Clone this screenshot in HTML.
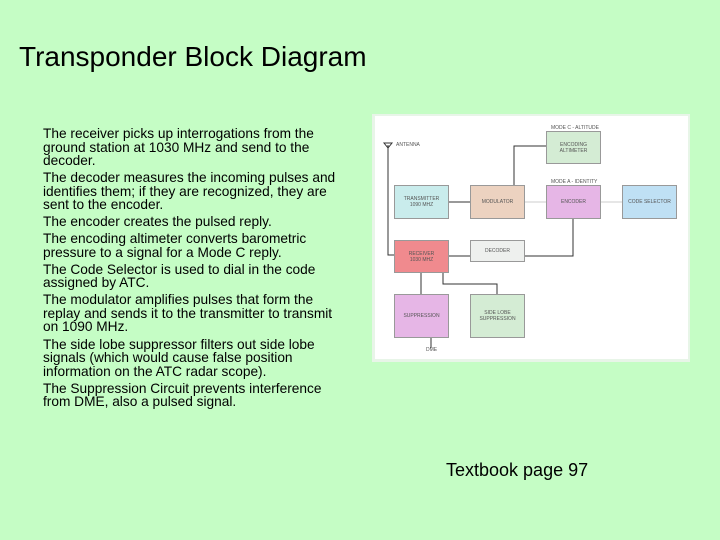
<!DOCTYPE html>
<html><head><style>
body{margin:0;width:720px;height:540px;background:#c5fdc5;position:relative;overflow:hidden;font-family:"Liberation Sans",sans-serif;}
.t{position:absolute;left:19px;top:41px;font-size:28px;color:#000;white-space:nowrap;}
.p{position:absolute;left:43px;top:127px;width:330px;font-size:13.7px;line-height:13.5px;color:#000;white-space:nowrap;}
.p div{margin-bottom:3.6px;}
.f{position:absolute;left:446px;top:460px;font-size:18px;white-space:nowrap;}
.d{position:absolute;left:372px;top:114px;width:318px;height:248px;background:#e8f5e8;}
.w{position:absolute;left:375px;top:116px;width:313px;height:243px;background:#fff;}
.b{position:absolute;font-size:5px;color:#555;display:flex;align-items:center;justify-content:center;text-align:center;border:1px solid #999;box-sizing:border-box;}
.l{position:absolute;font-size:5px;color:#555;}
</style></head><body>
<div class="t">Transponder Block Diagram</div>
<div class="p"><div>The receiver picks up interrogations from the<br>ground station at 1030 MHz and send to the<br>decoder.</div><div>The decoder measures the incoming pulses and<br>identifies them; if they are recognized, they are<br>sent to the encoder.</div><div>The encoder creates the pulsed reply.</div><div>The encoding altimeter converts barometric<br>pressure to a signal for a Mode C reply.</div><div>The Code Selector is used to dial in the code<br>assigned by ATC.</div><div>The modulator amplifies pulses that form the<br>replay and sends it to the transmitter to transmit<br>on 1090 MHz.</div><div>The side lobe suppressor filters out side lobe<br>signals (which would cause false position<br>information on the ATC radar scope).</div><div>The Suppression Circuit prevents interference<br>from DME, also a pulsed signal.</div></div>
<div class="f">Textbook page 97</div>
<div class="d"></div><div class="w"></div>
<svg style="position:absolute;left:0;top:0" width="720" height="540">
<g stroke="#333" stroke-width="1" fill="none">
<path d="M388 145 L388 255 L394 255"/><path d="M384 143 L392 143 L388 148 Z"/>
<path d="M470 202 L449 202"/><path d="M546 146 L514 146 L514 185"/>
<path d="M546 202 L524 202" stroke="#ccc"/><path d="M622 202 L600 202" stroke="#ccc"/>
<path d="M449 256 L470 256"/><path d="M524 256 L573 256 L573 219"/>
<path d="M421 294 L421 273"/><path d="M497 294 L497 284 L443 284 L443 273"/>
<path d="M431 338 L431 348"/>
</g></svg>
<div class="l" style="left:551px;top:125px">MODE C - ALTITUDE</div>
<div class="l" style="left:551px;top:179px">MODE A - IDENTITY</div>
<div class="l" style="left:396px;top:142px">ANTENNA</div>
<div class="l" style="left:426px;top:347px">DME</div>
<div class="b" style="left:546px;top:131px;width:55px;height:33px;background:#d4ecd4">ENCODING<br>ALTIMETER</div>
<div class="b" style="left:394px;top:185px;width:55px;height:34px;background:#c9ecec">TRANSMITTER<br>1090 MHZ</div>
<div class="b" style="left:470px;top:185px;width:55px;height:34px;background:#ecd2c0">MODULATOR</div>
<div class="b" style="left:546px;top:185px;width:55px;height:34px;background:#e6b6e6">ENCODER</div>
<div class="b" style="left:622px;top:185px;width:55px;height:34px;background:#bfe0f4">CODE SELECTOR</div>
<div class="b" style="left:394px;top:240px;width:55px;height:33px;background:#f08a8e">RECEIVER<br>1030 MHZ</div>
<div class="b" style="left:470px;top:240px;width:55px;height:22px;background:#eef0ee">DECODER</div>
<div class="b" style="left:394px;top:294px;width:55px;height:44px;background:#e6b6e6">SUPPRESSION</div>
<div class="b" style="left:470px;top:294px;width:55px;height:44px;background:#d4ecd4">SIDE LOBE<br>SUPPRESSION</div>
</body></html>
